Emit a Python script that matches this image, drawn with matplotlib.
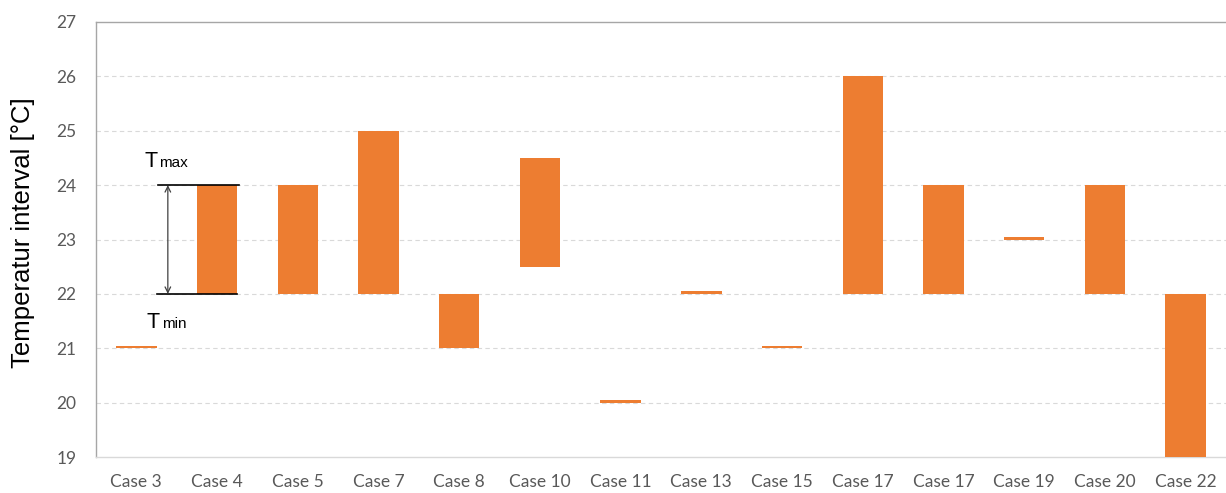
import matplotlib
matplotlib.use("Agg")
import matplotlib.pyplot as plt
import numpy as np

categories = ["Case 3", "Case 4", "Case 5", "Case 7", "Case 8", "Case 10", "Case 11",
              "Case 13", "Case 15", "Case 17", "Case 17", "Case 19", "Case 20", "Case 22"]
t_min = [21.0, 22.0, 22.0, 22.0, 21.0, 22.5, 20.0, 22.0, 21.0, 22.0, 22.0, 23.0, 22.0, 19.0]
t_max = [21.05, 24.0, 24.0, 25.0, 22.0, 24.5, 20.05, 22.05, 21.05, 26.0, 24.0, 23.05, 24.0, 22.0]
y_ticks = [19, 20, 21, 22, 23, 24, 25, 26, 27]

BAR = "#ED7D31"
GRAY = "#595959"

fig = plt.figure(figsize=(12.26, 4.93), dpi=100)
ax = fig.add_axes([96 / 1226, 1 - 457 / 493, 1 - 96 / 1226, (457 - 22) / 493])

x = np.arange(len(categories))
heights = np.array(t_max) - np.array(t_min)
ax.bar(x, heights, bottom=t_min, width=0.5, color=BAR, zorder=3)

ax.set_xlim(-0.5, len(categories) - 0.5)
ax.set_ylim(19, 27)
ax.set_yticks(y_ticks)
ax.set_xticks(x)
ax.set_xticklabels(categories)

for t in [20, 21, 22, 23, 24, 25, 26]:
    ax.axhline(t, color="#d9d9d9", lw=0.8, ls=(0, (4, 3)), zorder=1)

ax.spines["right"].set_visible(False)
ax.spines["top"].set_color("#a6a6a6")
ax.spines["left"].set_color("#a6a6a6")
ax.spines["bottom"].set_color("#d9d9d9")
for s in ["top", "left", "bottom"]:
    ax.spines[s].set_linewidth(1.0)

ax.tick_params(axis="both", length=0, colors=GRAY, labelsize=12.5)
ax.tick_params(axis="y", pad=14)
ax.tick_params(axis="x", pad=12)
for lab in ax.get_xticklabels() + ax.get_yticklabels():
    lab.set_fontfamily("Lato")

ax.set_ylabel("Temperatur interval [°C]", fontsize=18.5, family="Liberation Sans",
              color="black")
ax.yaxis.set_label_coords(-61 / 1130, 0.516)

# Tmax / Tmin annotation
ax.plot([0.266, 1.267], [24, 24], color="black", lw=1.2, zorder=4, clip_on=False)
ax.plot([0.253, 1.242], [22, 22], color="black", lw=1.2, zorder=4, clip_on=False)
ax.annotate("", xy=(0.39, 24), xytext=(0.39, 22),
            arrowprops=dict(arrowstyle="<->", color="#404040", lw=0.9,
                            shrinkA=0, shrinkB=0, mutation_scale=10))
ax.text(0.10, 24.33, "T", fontsize=15.5, family="Liberation Sans", color="black",
        ha="left", va="baseline")
ax.text(0.285, 24.33, "max", fontsize=11, family="Liberation Sans", color="black",
        ha="left", va="baseline")
ax.text(0.13, 21.38, "T", fontsize=15.5, family="Liberation Sans", color="black",
        ha="left", va="baseline")
ax.text(0.315, 21.38, "min", fontsize=11, family="Liberation Sans", color="black",
        ha="left", va="baseline")

fig.savefig("out.png", dpi=100)
